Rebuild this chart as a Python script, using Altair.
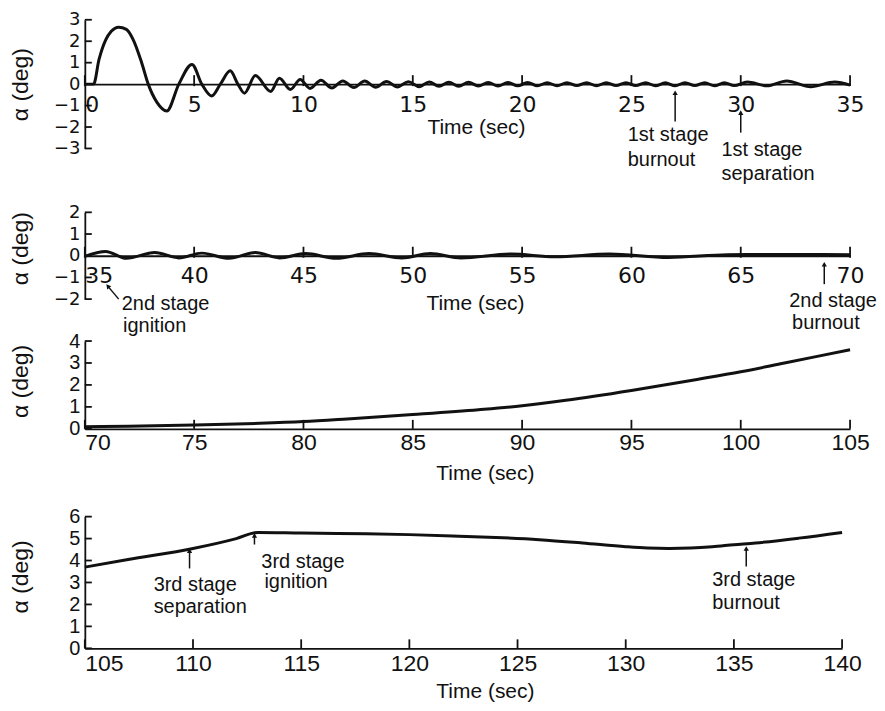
import altair as alt
import pandas as pd

# ---------------- data ----------------
# Panel 1: 0-35 s
T1 = [0.0, 0.4, 0.65, 0.95, 1.2, 1.55, 1.9, 2.2, 2.6, 2.9, 3.3, 3.75, 4.3, 4.9, 5.35, 5.8, 6.2,
      6.65, 7.0, 7.3, 7.8, 8.5, 8.9, 9.4, 9.85, 10.3, 10.8, 11.3, 11.8, 12.3, 12.8, 13.3,
      13.8, 14.3, 14.8, 15.3, 15.75, 16.2, 16.65, 17.1, 17.55, 18.0, 18.45, 18.9, 19.35,
      19.8, 20.25, 20.7, 21.15, 21.6, 22.05, 22.5, 22.95, 23.4, 23.85, 24.3, 24.75, 25.2,
      25.65, 26.1, 26.55, 27.0, 27.45, 27.9, 28.35, 28.8, 29.25, 29.7, 30.3, 31.2, 32.1,
      33.2, 34.3, 35.0]
A1 = [0.0, 0.0, 1.15, 2.05, 2.45, 2.65, 2.55, 2.1, 1.0, 0.0, -0.85, -1.25, 0.0, 0.92, 0.0, -0.55, 0.0,
      0.62, 0.0, -0.42, 0.4, -0.34, 0.27, -0.25, 0.22, -0.2, 0.18, -0.18, 0.15, -0.16, 0.14, -0.15,
      0.12, -0.13, 0.11, -0.12, 0.1, -0.1, 0.09, -0.1, 0.09, -0.09, 0.08, -0.09, 0.08,
      -0.08, 0.08, -0.08, 0.07, -0.08, 0.07, -0.07, 0.07, -0.08, 0.07, -0.07, 0.06, -0.07,
      0.07, -0.08, 0.06, -0.08, 0.07, -0.07, 0.07, -0.08, 0.06, -0.07, 0.1, -0.08, 0.15,
      -0.12, 0.1, -0.05]

# Panel 2: 35-70 s
T2 = [35.0, 35.95, 36.9, 38.2, 39.3, 40.35, 41.6, 42.8, 43.9, 45.1, 46.5, 48.0, 49.5,
      50.8, 52.2, 54.5, 56.5, 59.0, 61.7, 64.4, 67.0, 70.0]
A2 = [-0.03, 0.2, -0.12, 0.15, -0.1, 0.12, -0.12, 0.15, -0.1, 0.1, -0.12, 0.1, -0.1,
      0.1, -0.1, 0.08, -0.05, 0.08, -0.08, 0.05, 0.06, 0.05]

# Panel 3: 70-105 s
T3 = [70, 72, 75, 78, 80, 82, 85, 88, 90, 92, 95, 98, 100, 102, 105]
A3 = [0.1, 0.12, 0.17, 0.25, 0.33, 0.45, 0.65, 0.87, 1.05, 1.3, 1.75, 2.25, 2.6, 3.0, 3.6]

# Panel 4: 105-140 s
T4 = [105, 107, 110, 112, 113, 115, 118, 120, 122, 124, 126, 128, 130, 131, 132, 133,
      134, 135, 136, 138, 140]
A4 = [3.7, 4.05, 4.55, 5.0, 5.28, 5.25, 5.22, 5.18, 5.12, 5.05, 4.95, 4.8, 4.63, 4.57,
      4.55, 4.57, 4.63, 4.72, 4.8, 5.02, 5.28]

# tick values
X1_TICKS = [0, 5, 10, 15, 20, 25, 30, 35]
X2_TICKS = [35, 40, 45, 50, 55, 60, 65, 70]
X3_TICKS = [70, 75, 80, 85, 90, 95, 100, 105]
X4_TICKS = [105, 110, 115, 120, 125, 130, 135, 140]
Y1_TICKS = [-3, -2, -1, 0, 1, 2, 3]
Y2_TICKS = [-2, -1, 0, 1, 2]
Y3_TICKS = [0, 1, 2, 3, 4]
Y4_TICKS = [0, 1, 2, 3, 4, 5, 6]

# annotations: arrows (tip t, tip value, tail t, tail value, head angle)
ARROWS1 = [(27.0, -0.40, 27.0, -1.74, 0), (30.0, -1.33, 30.0, -2.26, 0)]
TEXT1 = [(24.83, -2.67, "1st stage"), (24.83, -3.84, "burnout"),
         (29.12, -3.33, "1st stage"), (29.12, -4.49, "separation")]
ARROWS2 = [(36.05, -1.40, 36.55, -2.0, 320), (68.82, -0.39, 68.82, -1.31, 0)]
TEXT2 = [(36.69, -2.51, "2nd stage"), (36.75, -3.52, "ignition"),
         (67.22, -2.36, "2nd stage"), (67.35, -3.37, "burnout")]
ARROWS3 = []
TEXT3 = []
ARROWS4 = [(109.84, 4.45, 109.84, 3.64, 0), (112.84, 5.14, 112.84, 4.73, 0),
           (135.57, 4.55, 135.57, 3.73, 0)]
TEXT4 = [(108.18, 2.59, "3rd stage"), (108.18, 1.59, "separation"),
         (113.16, 3.64, "3rd stage"), (113.3, 2.73, "ignition"),
         (134.0, 2.82, "3rd stage"), (134.0, 1.77, "burnout")]

NUM_FONT_A = "DejaVu Sans"
NUM_FONT_B = "Liberation Sans"
TXT_FONT = "Liberation Sans"
INK = "#111111"
TICK_LEN = 9  # px, pointing into the plot


def panel(t, a, xticks, yticks, arrows, texts, width, h_plot, h_view, numfont, xsize,
          ysize, xlab_pad, xtitle_x, xtitle_y, ytitle_y, cross):
    xdom = [xticks[0], xticks[-1]]
    ydom = [yticks[0], yticks[-1]]
    zero_px = h_plot * ydom[1] / (ydom[1] - ydom[0])
    px_per_x = width / (xdom[1] - xdom[0])
    px_per_y = h_plot / (ydom[1] - ydom[0])
    xs = alt.Scale(domain=xdom, nice=False, zero=False)
    ys = alt.Scale(domain=ydom, range=[h_plot, 0], nice=False, zero=False)

    label_align = {"condition": {"test": f"datum.value == {xticks[0]}", "value": "left"},
                   "value": "center"}

    xaxis = alt.Axis(values=xticks, title="Time (sec)", ticks=False, tickSize=0,
                     domainColor=INK, domainWidth=1.8, labelFont=numfont,
                     labelFontSize=xsize, labelColor=INK, labelPadding=xlab_pad,
                     labelOverlap=False, labelBound=False,
                     labelAlign=label_align, offset=-(h_view - zero_px),
                     titleFont=TXT_FONT, titleFontSize=21, titleFontWeight="normal",
                     titleColor=INK, titleX=xtitle_x, titleY=xtitle_y,
                     titleBaseline="middle", titleAlign="center", grid=False)
    yaxis = alt.Axis(values=yticks, title="α (deg)", ticks=False, tickSize=0,
                     domainColor=INK, domainWidth=1.8, labelFont=numfont,
                     labelFontSize=ysize, labelColor=INK, labelPadding=5,
                     labelOverlap=False, labelBound=False,
                     titleFont=TXT_FONT, titleFontSize=23, titleFontWeight="normal",
                     titleColor=INK, titleX=-64, titleY=ytitle_y, titleBaseline="middle",
                     titleAlign="center", grid=False)

    def X(field):
        return alt.X(field, scale=xs, axis=xaxis)

    def Y(field):
        return alt.Y(field, scale=ys, axis=yaxis)

    df = pd.DataFrame({"t": t, "a": a})
    line = alt.Chart(df).mark_line(interpolate="monotone", strokeWidth=3, color=INK).encode(
        x=X("t:Q"), y=Y("a:Q"),
    )
    layers = [line]

    # short tick marks pointing into the plot (field ends, like the arrows)
    xt = pd.DataFrame({"t": xticks,
                       "a": [-cross / px_per_y for _ in xticks],
                       "a2": [TICK_LEN / px_per_y for _ in xticks]})
    yt = pd.DataFrame({"t": [float(xdom[0]) for _ in yticks],
                       "t2": [xdom[0] + 7 / px_per_x for _ in yticks],
                       "a": yticks})
    layers.append(alt.Chart(xt).mark_rule(strokeWidth=1.8, color=INK).encode(
        x=X("t:Q"), y=Y("a:Q"), y2="a2:Q",
    ))
    layers.append(alt.Chart(yt).mark_rule(strokeWidth=1.8, color=INK).encode(
        x=X("t:Q"), x2="t2:Q", y=Y("a:Q"),
    ))

    if arrows:
        ar = pd.DataFrame(arrows, columns=["t", "a", "t2", "a2", "ang"])
        layers.append(alt.Chart(ar).mark_rule(strokeWidth=1.5, color=INK).encode(
            x=X("t:Q"), x2="t2:Q", y=Y("a:Q"), y2="a2:Q",
        ))
        layers.append(alt.Chart(ar).mark_point(shape="triangle-up", filled=True, size=28,
                                               opacity=1, color=INK).encode(
            x=X("t:Q"), y=Y("a:Q"),
            angle=alt.Angle("ang:Q", scale=None),
        ))
    if texts:
        tx = pd.DataFrame(texts, columns=["t", "a", "label"])
        layers.append(alt.Chart(tx).mark_text(font=TXT_FONT, fontSize=20, align="left",
                                              baseline="alphabetic", color=INK).encode(
            x=X("t:Q"), y=Y("a:Q"), text="label:N",
        ))
    return alt.layer(*layers).properties(width=width, height=h_view)


p1 = panel(T1, A1, X1_TICKS, Y1_TICKS, ARROWS1, TEXT1, 767, 129, 193, NUM_FONT_A, 22, 18,
           10, 392, 43, 64.5, 2)
p2 = panel(T2, A2, X2_TICKS, Y2_TICKS, ARROWS2, TEXT2, 767, 87, 129, NUM_FONT_A, 22, 18,
           10, 391, 48, 36, 2)
p3 = panel(T3, A3, X3_TICKS, Y3_TICKS, ARROWS3, TEXT3, 767, 88, 176, NUM_FONT_B, 23, 20,
           3, 401, 45, 40, 0)
p4 = panel(T4, A4, X4_TICKS, Y4_TICKS, ARROWS4, TEXT4, 759, 132, 132, NUM_FONT_B, 23, 20,
           4, 401, 43, 60, 0)

chart = alt.vconcat(p1, p2, p3, p4, spacing=0, bounds="flush").properties(
    padding={"top": 2, "left": 2, "right": 0, "bottom": 0},
    background="white",
).configure_view(stroke=None).configure_axis(grid=False)

chart.save("out.html", embed_options={"renderer": "svg", "actions": False})
